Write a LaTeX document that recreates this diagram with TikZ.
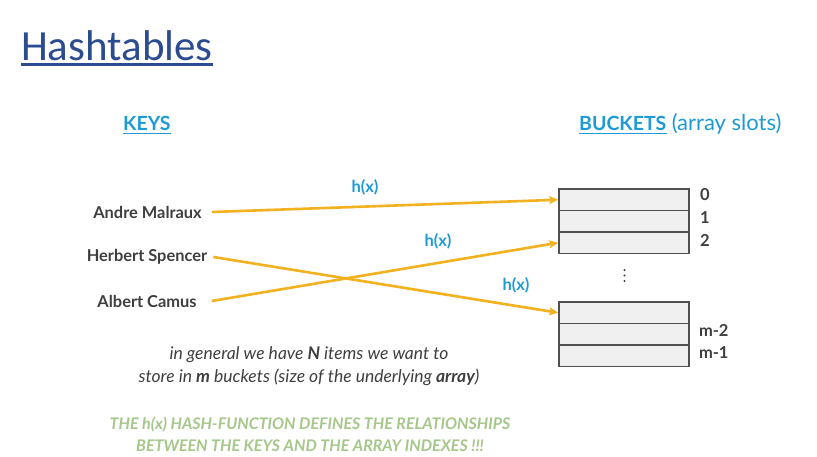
\documentclass[tikz,border=0pt]{standalone}
\usepackage{fontspec}
\setmainfont{Lato}
\newfontfamily\titlefont{Carlito}
\usetikzlibrary{arrows.meta}
\definecolor{titleblue}{HTML}{2B4C90}
\definecolor{keyblue}{HTML}{1E9BD7}
\definecolor{arrowor}{HTML}{F2B11E}
\definecolor{txtgray}{HTML}{3F3F3F}
\definecolor{boxgray}{HTML}{F0F0F0}
\definecolor{boxline}{HTML}{505050}
\definecolor{greentxt}{HTML}{A6C78A}
\tikzset{
  keylabel/.style={font=\fontsize{16.4}{18}\selectfont\bfseries, text=txtgray, inner sep=0pt},
  hxlabel/.style={font=\fontsize{16.5}{18}\selectfont\bfseries, text=keyblue, inner sep=0pt},
  slot/.style={draw=boxline, line width=1.6pt, fill=boxgray, minimum width=130pt, minimum height=21.5pt, inner sep=0pt},
  idx/.style={font=\fontsize{16.5}{18}\selectfont\bfseries, text=txtgray, inner sep=0pt, anchor=west},
  maparrow/.style={draw=arrowor, line width=2.6pt, -{Stealth[length=9pt,width=8pt,inset=2pt]}},
  dotmark/.style={fill=txtgray, draw=none},
}
\begin{document}
\begin{tikzpicture}[x=1pt,y=-1pt]
\useasboundingbox[fill=white] (0,0) rectangle (817,457);
% title
\node[anchor=base west, inner sep=0pt, text=titleblue, font=\titlefont\fontsize{43}{46}\selectfont] (title) at (21,61) {Hashtables};
\draw[titleblue, line width=2.2pt] ([yshift=-3.5pt]title.base west) -- ([yshift=-3.5pt]title.base east);
% headers
\node[anchor=base west, inner sep=0pt, text=keyblue, font=\fontsize{19.5}{22}\selectfont\bfseries] (keys) at (123,131) {KEYS};
\draw[keyblue, line width=1.4pt] ([yshift=-2.8pt]keys.base west) -- ([yshift=-2.8pt]keys.base east);
\node[anchor=base west, inner sep=0pt, text=keyblue, font=\fontsize{19.5}{22}\selectfont\bfseries] (buckets) at (579,131) {BUCKETS};
\draw[keyblue, line width=1.4pt] ([yshift=-2.8pt]buckets.base west) -- ([yshift=-2.8pt]buckets.base east);
\node[anchor=base west, inner sep=0pt, text=keyblue, font=\fontsize{22}{24}\selectfont] (slotsnote) at ([xshift=5pt]buckets.base east) {(array slots)};
% keys
\node[keylabel] (ka) at (147.5,212) {Andre Malraux};
\node[keylabel] (kh) at (147,257) {Herbert Spencer};
\node[keylabel] (kc) at (147,301) {Albert Camus};
% buckets
\node[slot] (b0) at (624,199.75) {};
\node[slot] (b1) at (624,221.25) {};
\node[slot] (b2) at (624,242.75) {};
\node[slot] (bm3) at (624,312.75) {};
\node[slot] (bm2) at (624,334.25) {};
\node[slot] (bm1) at (624,355.75) {};
\node[idx] (i0) at ([xshift=10pt,yshift=5pt]b0.east) {0};
\node[idx] (i1) at ([xshift=10pt,yshift=4pt]b1.east) {1};
\node[idx] (i2) at ([xshift=10pt,yshift=2pt]b2.east) {2};
\node[idx] (im2) at ([xshift=9pt,yshift=4pt]bm2.east) {m-2};
\node[idx] (im1) at ([xshift=9pt,yshift=3pt]bm1.east) {m-1};
\fill[dotmark] (624.5,270) circle (1.1pt) (624.5,275.5) circle (1.1pt) (624.5,281) circle (1.1pt);
% arrows
\draw[maparrow] ([xshift=10pt]ka.east) -- (b0.west);
\draw[maparrow] ([xshift=6pt]kh.east) -- (bm3.west);
\draw[maparrow] ([xshift=15pt]kc.east) -- (b2.west);
% h(x) labels
\node[hxlabel] (h1) at (365,187) {h(x)};
\node[hxlabel] (h2) at (438,241) {h(x)};
\node[hxlabel] (h3) at (516,285) {h(x)};
% notes
\node[align=center, inner sep=0pt, text=txtgray, font=\fontsize{17.5}{23}\selectfont\itshape] (note) at (309,366) {in general we have \textbf{N} items we want to\\store in \textbf{m} buckets (size of the underlying \textbf{array})};
\node[align=center, inner sep=0pt, text=greentxt, font=\fontsize{16}{22}\selectfont\bfseries\itshape] (green) at (310,434) {THE h(x) HASH-FUNCTION DEFINES THE RELATIONSHIPS\\BETWEEN THE KEYS AND THE ARRAY INDEXES !!!};
\end{tikzpicture}
\end{document}
